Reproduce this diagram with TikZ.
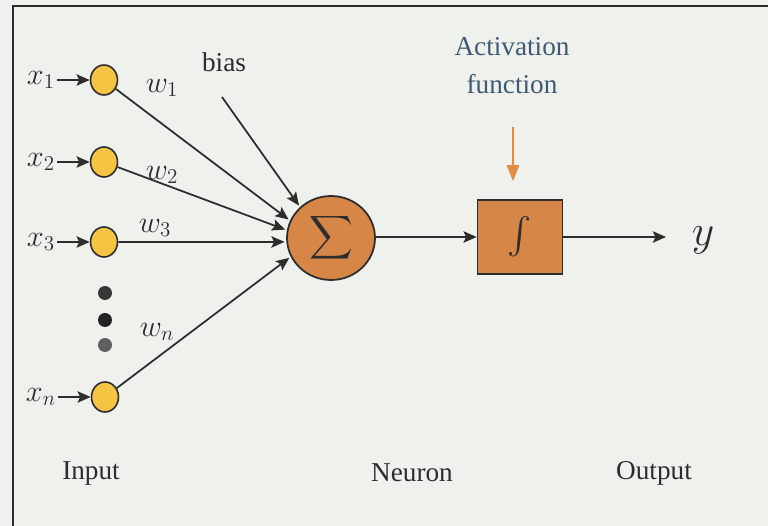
\documentclass[tikz,border=0pt]{standalone}
\usepackage{exscale}
\usepackage{fontspec}
\setmainfont{Liberation Serif}
\usetikzlibrary{positioning, arrows.meta, shapes.geometric, calc}
\usepackage{xcolor}

\definecolor{paper}{RGB}{239,241,237}
\definecolor{ink}{RGB}{45,45,45}
\definecolor{neuronorange}{RGB}{214,134,70}
\definecolor{arroworange}{RGB}{222,140,70}
\definecolor{inputyellow}{RGB}{245,196,66}
\definecolor{actblue}{RGB}{62,90,118}
\definecolor{dotA}{RGB}{55,55,55}
\definecolor{dotB}{RGB}{35,35,35}
\definecolor{dotC}{RGB}{95,95,95}

\begin{document}
\begin{tikzpicture}[
  x=0.02cm, y=-0.02cm,
  every node/.style={font=\fontsize{15.5}{18}\selectfont, text=ink},
  inputnode/.style={ellipse, draw=ink, line width=0.9pt, fill=inputyellow,
    minimum width=0.54cm, minimum height=0.6cm, inner sep=0pt},
  ellipsisdot/.style={circle, fill=#1, minimum size=0.28cm, inner sep=0pt},
  mathlab/.style={font=\fontsize{16.5}{18}\selectfont, inner sep=1pt},
  arr/.style={draw=ink, line width=1pt, -{Stealth[length=7.5pt, width=6.5pt, inset=1.5pt]}},
]
\fill[paper] (0,0) rectangle (768,526);
\useasboundingbox (0,0) rectangle (768,526);
\draw[ink, line width=1.2pt] (13,526) -- (13,6) -- (768,6);

% inputs
\node[mathlab] (x1) at (41,80) {$x_1$};
\node[mathlab] (x2) at (41,162) {$x_2$};
\node[mathlab] (x3) at (41,242) {$x_3$};
\node[mathlab] (xn) at (41,397) {$x_n$};
\node[inputnode] (i1) at (104,80) {};
\node[inputnode] (i2) at (104,162) {};
\node[inputnode] (i3) at (104,242) {};
\node[inputnode] (in) at (105,397) {};
\node[ellipsisdot=dotA] (d1) at (105,293) {};
\node[ellipsisdot=dotB] (d2) at (105,320) {};
\node[ellipsisdot=dotC] (d3) at (105,345) {};
\foreach \k in {1,2,3,n} \draw[arr] (x\k.east |- i\k) -- (i\k.west);

% neuron
\node[ellipse, draw=ink, line width=1pt, fill=neuronorange, minimum width=1.76cm,
  minimum height=1.68cm, inner sep=0pt] (sum) at (331,238)
  {\fontsize{19}{20}\selectfont$\displaystyle\sum$};
\node[draw=ink, line width=1pt, fill=neuronorange, minimum width=1.7cm,
  minimum height=1.48cm] (act) at (520,237) {\fontsize{20}{22}\selectfont$\int$};

\draw[arr, shorten >=1pt] (i1) -- (sum.157);
\draw[arr, shorten >=1pt] (i2) -- (sum.170);
\draw[arr, shorten >=1pt] (i3) -- (sum.185);
\draw[arr, shorten >=1pt] (in) -- (sum.205);
\node[mathlab] (w1) at (162,88) {$w_1$};
\node[mathlab] (w2) at (162,175) {$w_2$};
\node[mathlab] (w3) at (155,228) {$w_3$};
\node[mathlab] (wn) at (157,332) {$w_n$};

\node (bias) at (224,62) {bias};
\coordinate (biasstart) at (222,97);
\draw[arr, shorten >=1pt] (biasstart) -- (sum.135);

% activation and output
\draw[arr] (sum.east |- act.west) -- (act.west);
\node[text=actblue, align=center, font=\fontsize{15.5}{21.5}\selectfont] (actlab) at (512,66) {Activation\\function};
\coordinate (actstart) at (513,127);
\coordinate (actend) at (513,181);
\draw[arroworange, line width=1.3pt, -{Triangle[length=9pt, width=7pt]}] (actstart) -- (actend);

\coordinate (yend) at (666,237);
\node[font=\fontsize{25}{28}\selectfont] (y) at (703,240) {$y$};
\draw[arr] (act.east) -- (yend);

\node (input) at (91,473) {Input};
\node (neuron) at (412,473) {Neuron};
\node (output) at (654,473) {Output};
\end{tikzpicture}
\end{document}
